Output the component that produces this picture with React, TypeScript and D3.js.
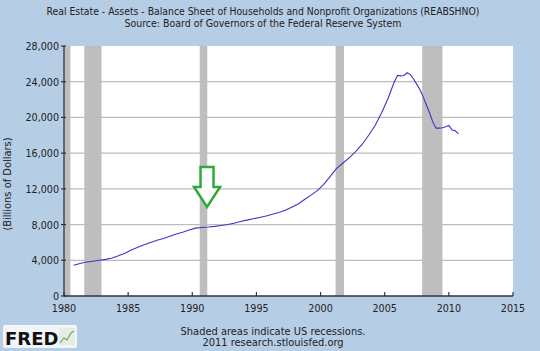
import { useEffect, useRef } from 'react';
import * as d3 from 'd3';

// decimal years (quarterly-ish) and values, billions of dollars
const years = [
  1980.75, 1981.25, 1981.75, 1982.25, 1982.75, 1983.25, 1983.75, 1984.25, 1984.75,
  1985.25, 1985.75, 1986.25, 1986.75, 1987.25, 1987.75, 1988.25, 1988.75, 1989.25,
  1989.75, 1990.25, 1990.75, 1991.25, 1991.75, 1992.25, 1992.75, 1993.25, 1993.75,
  1994.25, 1994.75, 1995.25, 1995.75, 1996.25, 1996.75, 1997.25, 1997.75, 1998.25,
  1998.75, 1999.25, 1999.75, 2000.25, 2000.75, 2001.25, 2001.75, 2002.25, 2002.75,
  2003.25, 2003.75, 2004.25, 2004.75, 2005.25, 2005.75, 2006.0, 2006.25, 2006.5,
  2006.75, 2007.0, 2007.25, 2007.5, 2007.75, 2008.0, 2008.25, 2008.5, 2008.75,
  2009.0, 2009.25, 2009.5, 2009.75, 2010.0, 2010.25, 2010.5, 2010.75,
];
const values = [
  3450, 3650, 3800, 3900, 4000, 4100, 4250, 4500, 4800,
  5150, 5450, 5750, 6000, 6250, 6450, 6700, 6950, 7150,
  7400, 7600, 7680, 7720, 7800, 7900, 8000, 8150, 8350,
  8500, 8650, 8800, 8950, 9150, 9350, 9600, 9950, 10300,
  10800, 11300, 11800, 12500, 13400, 14300, 14900, 15500, 16200,
  17000, 18000, 19100, 20500, 22100, 24000, 24700, 24650, 24700,
  25000, 24800, 24300, 23700, 23100, 22300, 21400, 20500, 19500,
  18800, 18800, 18850, 18950, 19100, 18600, 18500, 18150,
];

// recessions [start, end] in decimal years
const recessionStart = [1980.0, 1981.58, 1990.58, 2001.17, 2007.92];
const recessionEnd = [1980.5, 1982.92, 1991.17, 2001.83, 2009.5];

const yTicks = [0, 4000, 8000, 12000, 16000, 20000, 24000, 28000];
const xTicks = [1980, 1985, 1990, 1995, 2000, 2005, 2010, 2015];

const titleLines = [
  'Real Estate - Assets - Balance Sheet of Households and Nonprofit Organizations (REABSHNO)',
  'Source: Board of Governors of the Federal Reserve System',
];
const titleWidths = [433, 277];
const footerLines = ['Shaded areas indicate US recessions.', '2011 research.stlouisfed.org'];

export default function App() {
  const svgRef = useRef<SVGSVGElement>(null);

  useEffect(() => {
    document.body.style.margin = '0';
    if (!svgRef.current) return;

    const W = 540;
    const H = 351;
    const plot = { left: 64, right: 513, top: 46, bottom: 296 };
    const font = '"DejaVu Sans", Verdana, sans-serif';

    const svg = d3.select(svgRef.current);
    svg.selectAll('*').remove();
    svg.attr('width', W).attr('height', H);

    svg.append('rect').attr('width', W).attr('height', H).attr('fill', '#b6cde6');

    const x = d3.scaleLinear().domain([1980, 2015]).range([plot.left, plot.right]);
    const y = d3.scaleLinear().domain([0, 28000]).range([plot.bottom, plot.top]);

    // plot background
    svg
      .append('rect')
      .attr('x', plot.left)
      .attr('y', plot.top)
      .attr('width', plot.right - plot.left)
      .attr('height', plot.bottom - plot.top)
      .attr('fill', '#ffffff');

    // recession bars
    svg
      .selectAll('.rec')
      .data(recessionStart)
      .enter()
      .append('rect')
      .attr('x', (d) => x(d))
      .attr('y', plot.top)
      .attr('width', (d, i) => x(recessionEnd[i]) - x(d))
      .attr('height', plot.bottom - plot.top)
      .attr('fill', '#bebebe');

    // gridlines
    svg
      .selectAll('.grid')
      .data(yTicks.filter((t) => t > 0 && t < 28000))
      .enter()
      .append('line')
      .attr('x1', plot.left)
      .attr('x2', plot.right)
      .attr('y1', (d) => y(d))
      .attr('y2', (d) => y(d))
      .attr('stroke', '#bdbdbd')
      .attr('stroke-width', 1.2);

    // data line
    const line = d3
      .line<number>()
      .x((d, i) => x(years[i]))
      .y((d) => y(d));
    svg
      .append('path')
      .datum(values)
      .attr('d', line)
      .attr('fill', 'none')
      .attr('stroke', '#3a36c8')
      .attr('stroke-width', 1.1);

    // axes
    const axisColor = '#333';
    svg
      .append('line')
      .attr('x1', plot.left)
      .attr('x2', plot.left)
      .attr('y1', plot.top)
      .attr('y2', plot.bottom)
      .attr('stroke', axisColor)
      .attr('stroke-width', 1.3);
    svg
      .append('line')
      .attr('x1', plot.left)
      .attr('x2', plot.right)
      .attr('y1', plot.bottom)
      .attr('y2', plot.bottom)
      .attr('stroke', axisColor)
      .attr('stroke-width', 1.3);

    svg
      .selectAll('.ytick')
      .data(yTicks)
      .enter()
      .append('line')
      .attr('x1', plot.left - 3)
      .attr('x2', plot.left + 2)
      .attr('y1', (d) => y(d))
      .attr('y2', (d) => y(d))
      .attr('stroke', axisColor)
      .attr('stroke-width', 1.2);

    svg
      .selectAll('.ylabel')
      .data(yTicks)
      .enter()
      .append('text')
      .attr('x', plot.left - 5)
      .attr('y', (d) => y(d) + 4)
      .attr('text-anchor', 'end')
      .style('font-family', font)
      .style('font-size', '9.6px')
      .style('fill', '#222')
      .text((d) => d3.format(',')(d));

    svg
      .selectAll('.xtick')
      .data(xTicks)
      .enter()
      .append('line')
      .attr('x1', (d) => x(d))
      .attr('x2', (d) => x(d))
      .attr('y1', plot.bottom - 4)
      .attr('y2', plot.bottom)
      .attr('stroke', axisColor)
      .attr('stroke-width', 1.2);

    svg
      .selectAll('.xlabel')
      .data(xTicks)
      .enter()
      .append('text')
      .attr('x', (d) => x(d))
      .attr('y', plot.bottom + 16)
      .attr('text-anchor', 'middle')
      .style('font-family', font)
      .style('font-size', '9.6px')
      .style('fill', '#222')
      .text((d) => d);

    // y axis title
    svg
      .append('text')
      .attr('transform', 'translate(11,184) rotate(-90)')
      .attr('text-anchor', 'middle')
      .style('font-family', font)
      .style('font-size', '9.9px')
      .style('fill', '#222')
      .text('(Billions of Dollars)');

    // title
    svg
      .selectAll('.title')
      .data(titleLines)
      .enter()
      .append('text')
      .attr('x', 263)
      .attr('y', (d, i) => 15 + i * 12)
      .attr('text-anchor', 'middle')
      .attr('textLength', (d, i) => titleWidths[i])
      .attr('lengthAdjust', 'spacingAndGlyphs')
      .style('font-family', font)
      .style('font-size', '9.6px')
      .style('fill', '#222')
      .text((d) => d);

    // footer
    svg
      .selectAll('.footer')
      .data(footerLines)
      .enter()
      .append('text')
      .attr('x', 273)
      .attr('y', (d, i) => 335 + i * 11)
      .attr('text-anchor', 'middle')
      .style('font-family', font)
      .style('font-size', '9.9px')
      .style('fill', '#222')
      .text((d) => d);

    // green arrow annotation
    const ax = x(1991.15);
    const arrow = [
      [ax - 6.5, 167],
      [ax + 6.5, 167],
      [ax + 6.5, 187],
      [ax + 13, 187],
      [ax, 207],
      [ax - 13, 187],
      [ax - 6.5, 187],
    ];
    svg
      .append('path')
      .attr('d', d3.line()(arrow as [number, number][]) + 'Z')
      .attr('fill', '#ffffff')
      .attr('stroke', '#2eaa3a')
      .attr('stroke-width', 2.5)
      .attr('stroke-linejoin', 'miter');

    // FRED logo
    const logo = svg.append('g');
    logo
      .append('rect')
      .attr('x', 3)
      .attr('y', 325)
      .attr('width', 74)
      .attr('height', 23)
      .attr('rx', 2)
      .attr('fill', '#f2f5f8');
    logo
      .append('text')
      .attr('x', 5)
      .attr('y', 345)
      .style('font-family', '"DejaVu Sans", sans-serif')
      .style('font-weight', 'bold')
      .style('font-size', '18px')
      .style('fill', '#111')
      .text('FRED');
    logo
      .append('rect')
      .attr('x', 59)
      .attr('y', 328)
      .attr('width', 16)
      .attr('height', 17)
      .attr('fill', '#e4ece4');
    logo
      .append('path')
      .attr('d', 'M60,343 L64,338 L67,340 L71,333 L74,331')
      .attr('fill', 'none')
      .attr('stroke', '#6aa86a')
      .attr('stroke-width', 1.2);
  }, []);

  return <svg ref={svgRef} style={{ display: 'block' }} />;
}
